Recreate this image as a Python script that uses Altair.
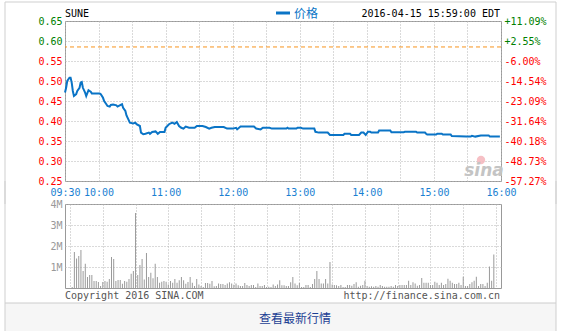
import altair as alt
import pandas as pd

# ---------------- data ----------------
symbol = "SUNE"
stamp = "2016-04-15 15:59:00 EDT"
legend_label = "价格"
copyright_text = "Copyright 2016 SINA.COM"
url_text = "http://finance.sina.com.cn"
button_text = "查看最新行情"
prev_close = 0.5851

price_times = ["09:30", "09:31", "09:32", "09:34", "09:35", "09:36", "09:37", "09:38", "09:40", "09:41",
               "09:43", "09:44", "09:45", "09:46", "09:48", "09:49", "09:51", "09:53", "09:54", "10:01",
               "10:02", "10:04", "10:05", "10:07", "10:08", "10:10", "10:11", "10:13", "10:16", "10:17",
               "10:19", "10:21", "10:22", "10:24", "10:25", "10:27", "10:28", "10:31", "10:33", "10:34",
               "10:37", "10:38", "10:40", "10:42", "10:45", "10:46", "10:48", "10:51", "10:53", "10:55",
               "10:59", "11:00", "11:03", "11:06", "11:08", "11:10", "11:12", "11:14", "11:16", "11:18",
               "11:21", "11:26", "11:28", "11:33", "11:36", "11:39", "11:41", "11:44", "11:52", "11:55",
               "12:00", "12:03", "12:04", "12:07", "12:19", "12:21", "12:25", "12:27", "12:33", "12:35",
               "12:48", "12:49", "12:50", "12:57", "12:58", "13:01", "13:03", "13:13", "13:14", "13:17",
               "13:25", "13:27", "13:39", "13:40", "13:45", "13:46", "13:53", "13:55", "13:57", "13:59",
               "14:01", "14:03", "14:04", "14:10", "14:11", "14:21", "14:22", "14:33", "14:34", "14:44",
               "14:45", "14:52", "14:53", "14:54", "15:02", "15:03", "15:07", "15:08", "15:15", "15:16",
               "15:29", "15:33", "15:34", "15:37", "15:42", "15:49", "15:50", "15:59"]
price_values = [0.471, 0.483, 0.500, 0.508, 0.508, 0.496, 0.475, 0.4625, 0.467, 0.475,
                0.483, 0.496, 0.4975, 0.483, 0.471, 0.4625, 0.477, 0.473, 0.469, 0.469,
                0.467, 0.458, 0.450, 0.442, 0.4375, 0.436, 0.440, 0.441, 0.439, 0.436,
                0.439, 0.442, 0.433, 0.425, 0.414, 0.402, 0.396, 0.394, 0.396, 0.392,
                0.3875, 0.371, 0.367, 0.368, 0.371, 0.368, 0.3725, 0.374, 0.368, 0.3725,
                0.3725, 0.383, 0.392, 0.396, 0.393, 0.3975, 0.3875, 0.383, 0.381, 0.386,
                0.383, 0.383, 0.3875, 0.3875, 0.385, 0.381, 0.383, 0.385, 0.385, 0.381,
                0.381, 0.383, 0.379, 0.386, 0.386, 0.381, 0.379, 0.383, 0.383, 0.381,
                0.381, 0.383, 0.381, 0.381, 0.383, 0.383, 0.381, 0.381, 0.373, 0.371,
                0.371, 0.365, 0.365, 0.368, 0.368, 0.365, 0.365, 0.371, 0.371, 0.365,
                0.373, 0.373, 0.371, 0.371, 0.376, 0.376, 0.372, 0.372, 0.373, 0.373,
                0.371, 0.371, 0.368, 0.366, 0.366, 0.368, 0.368, 0.366, 0.366, 0.3625,
                0.361, 0.361, 0.363, 0.361, 0.364, 0.364, 0.361, 0.361]

# volume in millions of shares, one bar every 2 minutes starting 09:32
volume_first = "09:32"
volume_step_min = 2
volume_values = [0.05,
                 1.71, 1.40, 1.52, 1.81, 0.81, 1.16, 0.52, 0.62, 0.62, 0.33,
                 0.33, 0.29, 0.10, 0.29, 0.33, 0.30, 0.43, 1.48, 1.38, 0.33,
                 0.38, 0.38, 0.20, 0.33, 0.30, 0.43, 0.68, 0.81, 3.57, 0.62,
                 1.10, 1.38, 0.40, 1.67, 0.52, 0.73, 0.46, 1.16, 0.52, 0.25,
                 0.30, 0.33, 0.30, 0.17, 0.33, 0.25, 0.43, 0.25, 0.37, 0.52,
                 0.37, 0.20, 0.29, 0.52, 0.25, 0.10, 0.43, 0.17, 0.10, 0.05,
                 0.24, 0.24, 0.20, 0.33,
                 0.08, 0.10, 0.22, 0.19, 0.19, 0.14, 0.21, 0.27, 0.22, 0.16,
                 0.22, 0.13, 0.10, 0.10, 0.24, 0.14, 0.10, 0.14, 0.14, 0.05,
                 0.22, 0.10, 0.10, 0.14, 0.05, 0.06, 0.05, 0.17, 0.10, 0.17,
                 0.37, 0.13, 0.13, 0.10, 0.10, 0.27, 0.52, 0.22, 0.13, 0.24,
                 0.05, 0.05, 0.14, 0.14, 0.05, 0.19, 0.43, 0.81, 0.43, 0.22,
                 0.22, 0.43, 0.22, 1.24, 0.17, 0.14, 0.13, 0.10, 0.14, 0.05,
                 0.05, 0.14, 0.14,
                 0.11, 0.19, 0.27, 0.06, 0.11, 0.14, 0.35, 0.10, 0.06, 0.08,
                 0.06, 0.10, 0.06, 0.14, 0.10, 0.06, 0.06, 0.06, 0.10, 0.06,
                 0.14, 0.10, 0.14, 0.14, 0.14, 0.14, 0.35, 0.14, 0.27, 0.22,
                 0.11, 0.14, 0.48, 0.25, 0.25, 0.25, 0.14, 0.14, 0.30, 0.25,
                 0.14, 0.25, 0.14, 0.19, 0.44, 0.35, 0.25, 0.19, 0.19, 0.25,
                 0.14, 0.54, 0.10, 0.10, 0.19, 0.27, 0.35, 0.54, 0.10, 0.19,
                 0.19, 0.10, 0.25, 1.02, 0.35, 1.59]

x_ticks = [0, 30, 60, 90, 120, 150, 180, 210, 240, 270, 300, 330, 360, 390]  # minutes after 09:30
price_ticks = [0.25, 0.30, 0.35, 0.40, 0.45, 0.50, 0.55, 0.60, 0.65]
volume_ticks = [1, 2, 3, 4]


def to_min(t):
    h, m = t.split(":")
    return int(h) * 60 + int(m) - 570


price_df = pd.DataFrame({"minute": [to_min(t) for t in price_times], "price": price_values})
v0 = to_min(volume_first)
vol_df = pd.DataFrame({"minute": [v0 + volume_step_min * i for i in range(len(volume_values))],
                       "volume": volume_values})

# ---------------- style ----------------
MONO = "DejaVu Sans Mono"
BLUE = "#0a74c6"
LBLUE = "#1a7fd2"
GRID = "#b4b4b4"
FRAME = "#cfcfcf"
W, H1, H2, GAP = 436, 160, 84, 23

x_scale = alt.Scale(domain=[0, 390], nice=False, zero=False)
p_scale = alt.Scale(domain=[0.25, 0.65], nice=False, zero=False)

time_expr = ("(datum.value % 60 == 0 && datum.value > 0) ? '' : "
             "(floor((570+datum.value)/60) < 10 ? '0' : '') + floor((570+datum.value)/60) + ':' + "
             "((570+datum.value) % 60 < 10 ? '0' : '') + ((570+datum.value) % 60)")

up_down_color = {"condition": {"test": f"datum.value > {prev_close}", "value": "#008000"}, "value": "#ff0000"}

ONE = pd.DataFrame({"k": [0]})


def rule(x1, x2, y1, y2, color, dash=None, width=1):
    kw = dict(color=color, strokeWidth=width)
    if dash:
        kw["strokeDash"] = dash
    return alt.Chart(ONE).mark_rule(**kw).encode(
        x=alt.value(x1), x2=alt.value(x2), y=alt.value(y1), y2=alt.value(y2))


def label(txt, x, y, **kw):
    return alt.Chart(pd.DataFrame({"t": [txt]})).mark_text(**kw).encode(
        x=alt.value(x), y=alt.value(y), text="t:N")


# ---------------- price panel ----------------
price_line = alt.Chart(price_df).mark_line(color=BLUE, strokeWidth=2).encode(
    x=alt.X("minute:Q", scale=x_scale, title=None,
            axis=alt.Axis(values=x_ticks, labelExpr=time_expr, grid=True, gridColor=GRID,
                          gridDash=[1, 2], domain=False, ticks=False, tickSize=0,
                          labelFont=MONO, labelFontSize=10, labelColor=LBLUE,
                          labelPadding=6, labelFlush=False, labelOverlap=False)),
    y=alt.Y("price:Q", scale=p_scale, title=None,
            axis=alt.Axis(values=price_ticks, format=".2f", grid=True, gridColor=GRID,
                          gridDash=[1, 2], domain=False, ticks=False, tickSize=0,
                          labelFont=MONO, labelFontSize=10, labelColor=up_down_color,
                          labelPadding=3)),
)

pct_expr = (f"(datum.value >= {prev_close} ? '+' : '-') + "
            f"format(abs(datum.value/{prev_close}-1)*100, '.2f') + '%'")

prev_rule = alt.Chart(pd.DataFrame({"prev": [prev_close]})).mark_rule(
    color="#f7941d", strokeDash=[4, 3], strokeWidth=1).encode(
    y=alt.Y("prev:Q", scale=p_scale, title=None,
            axis=alt.Axis(orient="right", values=price_ticks, labelExpr=pct_expr, grid=False,
                          domain=False, ticks=False, tickSize=0, labelFont=MONO,
                          labelFontSize=10, labelColor=up_down_color, labelPadding=3)),
)

price_deco = [
    rule(-60, -60, -19, H1 + GAP, FRAME),
    rule(491, 491, -19, H1 + GAP, FRAME),
    rule(-60, 491, -19, -19, FRAME),
    label(symbol, 0, -7, font=MONO, fontSize=10, color="#000", align="left", baseline="middle"),
    label(stamp, 435, -7, font=MONO, fontSize=10, color="#000", align="right", baseline="middle"),
    rule(211, 225, -8, -8, BLUE, width=3),
    label(legend_label, 229, -7, font="Noto Sans CJK SC", fontSize=12, color=BLUE,
          align="left", baseline="middle"),
    alt.Chart(ONE).mark_point(shape="circle", filled=True, color="#f5b5bb", opacity=0.85,
                              size=70).encode(x=alt.value(416), y=alt.value(139)),
    label("sina", 419, 150, font="DejaVu Sans", fontSize=17, fontStyle="italic",
          fontWeight="bold", color="#c4c4c4", align="center", baseline="middle"),
]

price_chart = alt.layer(price_line, prev_rule, *price_deco).resolve_scale(
    y="independent").properties(width=W, height=H1)

# ---------------- volume panel ----------------
bars = alt.Chart(vol_df).mark_bar(size=1, color="#9a9a9a").encode(
    x=alt.X("minute:Q", scale=x_scale, title=None,
            axis=alt.Axis(values=x_ticks, labels=False, grid=True, gridColor=GRID,
                          gridDash=[1, 2], domain=False, ticks=False, tickSize=0)),
    y=alt.Y("volume:Q", scale=alt.Scale(domain=[0, 4], nice=False), title=None,
            axis=alt.Axis(values=volume_ticks, labelExpr="datum.value + 'M'", grid=True,
                          gridColor=GRID, gridDash=[1, 2], domain=False, ticks=False,
                          tickSize=0, labelFont=MONO, labelFontSize=10,
                          labelColor="#999999", labelPadding=3)),
)

vol_deco = [
    alt.Chart(ONE).mark_rect(color="#f6f6f6").encode(
        x=alt.value(-60), x2=alt.value(491), y=alt.value(99), y2=alt.value(128)),
    rule(-60, 491, 99, 99, "#cccccc"),
    rule(-60, -60, -GAP, 128, FRAME),
    rule(491, 491, -GAP, 128, FRAME),
    label(copyright_text, 0, 92, font=MONO, fontSize=10, color="#555555",
          align="left", baseline="middle"),
    label(url_text, 435, 92, font=MONO, fontSize=10, color="#555555",
          align="right", baseline="middle"),
    label(button_text, 230, 115, font="Noto Sans CJK SC", fontSize=12, color="#1c3f94",
          align="center", baseline="middle"),
]

volume_chart = alt.layer(bars, *vol_deco).properties(width=W, height=H2)

chart = alt.vconcat(price_chart, volume_chart, spacing=GAP, bounds="flush").properties(
    padding={"left": 4, "top": 1, "right": 0, "bottom": 0},
    background="white",
).configure_view(stroke="#999999", strokeWidth=1)

chart.save("out.html", embed_options={"renderer": "svg", "actions": False})
